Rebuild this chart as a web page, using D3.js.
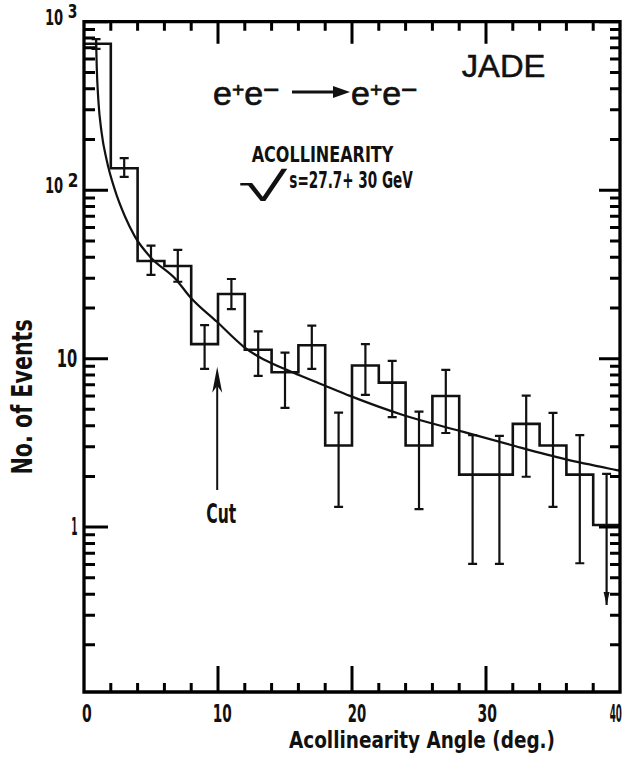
<!DOCTYPE html>
<html>
<head>
<meta charset="utf-8">
<script src="https://cdn.jsdelivr.net/npm/d3@7"></script>
<style>
  html, body { margin: 0; padding: 0; background: #fff; }
  svg { display: block; }
</style>
</head>
<body>
<script>
// ---------------- data ----------------
const binEdges = [0, 2, 4, 6, 8, 10, 12, 14, 16, 18, 20, 22, 24, 26, 28, 30, 32, 34, 36, 38, 40];
const counts   = [740, 135, 38, 35.5, 12.2, 24.2, 11.3, 8.3, 12, 3.05, 9.1, 7.2, 3.05, 6.0, 2.05, 2.05, 4.1, 3.05, 2.05, 1.03];
const errLow   = [689, 120, 31.4, 28.6, 8.7, 19.7, 7.9, 5.1, 8.7, 1.32, 6.09, 4.5, 1.28, 3.62, 0.605, 0.605, 1.99, 1.32, 0.61, 0.345];
const errHigh  = [789, 155, 46.8, 44.2, 15.8, 29.7, 14.5, 10.85, 15.7, 4.78, 12.2, 9.69, 4.85, 8.57, 3.52, 3.48, 6.03, 4.76, 3.52, 2.07];
const upperLimitBins = [19];
const errX     = [0.9, 3, 5, 7, 9, 11, 13, 15, 17, 19, 21, 23, 25, 27, 29, 31, 33, 35, 37, 39];

const curveDeg = [0.9, 0.95, 1.07, 1.32, 1.69, 2.31, 3.05, 3.8, 4.93, 6.9, 7.9, 9.9, 11.9, 15.6, 17.86, 19.85, 23.8, 27.8, 31.8, 35.9, 39.75, 40];
const curveVal = [786, 541, 343, 218, 151, 100, 70, 53, 40.3, 29.3, 23.3, 16.6, 11.8, 8.26, 6.98, 6.01, 4.63, 3.77, 3.08, 2.53, 2.18, 2.16];

const xMajorTicks = [0, 10, 20, 30, 40];
const xTickText   = ["0", "10", "20", "30", "40"];
const xInnerMajor = [10, 20, 30];
const xMinorTicks = [2, 4, 6, 8, 12, 14, 16, 18, 22, 24, 26, 28, 32, 34, 36, 38];
const yMajorTicks = [1, 10, 100, 1000];
const yTickBase   = ["1", "10", "10", "10"];
const yTickExp    = ["", "", "2", "3"];
const yMinorTicks = [0.2,0.3,0.4,0.5,0.6,0.7,0.8,0.9, 2,3,4,5,6,7,8,9, 20,30,40,50,60,70,80,90, 200,300,400,500,600,700,800,900];

const cutAngle = 10, cutTop = 8.96, cutBottom = 1.66;

// ---------------- scales ----------------
const W = 633, H = 761;
const x = d3.scaleLinear().domain([0, 40]).range([84, 620]);
const y = d3.scaleLog().domain([0.105, 1000]).range([692, 21.7]);
const X0 = x(0), X1 = x(40), Y0 = y(0.105), Y1 = y(1000);

const svg = d3.select("body").append("svg").attr("width", W).attr("height", H);
const ink = "#111111";
const COND = '"DejaVu Sans Condensed", "DejaVu Sans", sans-serif';
const HELV = '"Liberation Sans", Arial, sans-serif';
const cctx = document.createElement("canvas").getContext("2d");

// place text so that its ink box fills [left,left+w] x [top,top+h]; if h is null, top is the baseline
function inkText(str, family, weight, size, left, top, w, h, rot) {
  cctx.font = `${weight} ${size}px ${family}`;
  const m = cctx.measureText(str);
  const L = m.actualBoundingBoxLeft, R = m.actualBoundingBoxRight;
  const A = m.actualBoundingBoxAscent, D = m.actualBoundingBoxDescent;
  const sx = w / (L + R);
  const sy = h ? h / (A + D) : 1;
  const t = svg.append("text").attr("font-family", family).attr("font-weight", weight)
    .attr("font-size", size).attr("fill", ink).text(str);
  if (rot) {
    const cx = left + A * sy, cy = top + w - L * sx;
    t.attr("transform", `translate(${cx},${cy}) rotate(-90) scale(${sx},${sy})`);
  } else {
    const ty = h ? top + A * sy : top;
    t.attr("transform", `translate(${left + L * sx},${ty}) scale(${sx},${sy})`);
  }
  return t;
}

// ---------------- histogram ----------------
let hd = `M${x(binEdges[0])},${y(counts[0])}`;
counts.forEach((c, i) => {
  if (i > 0) hd += `V${y(c)}`;
  hd += `H${x(binEdges[i + 1])}`;
});
svg.append("path").attr("d", hd).attr("fill", "none").attr("stroke", ink)
  .attr("stroke-width", 2.6).attr("stroke-linejoin", "miter");

// ---------------- fit curve ----------------
const lineGen = d3.line().x(p => x(p[0])).y(p => y(p[1])).curve(d3.curveMonotoneX);
svg.append("path").attr("d", lineGen(curveDeg.map((v, i) => [v, curveVal[i]])))
  .attr("fill", "none").attr("stroke", ink).attr("stroke-width", 2.2);

// ---------------- error bars ----------------
let ed = "";
counts.forEach((c, i) => {
  const cx = x(errX[i]), yh = y(errHigh[i]), yl = y(errLow[i]);
  ed += `M${cx},${yh}V${yl}M${cx - 4.5},${yh}h9`;
  if (!upperLimitBins.includes(i)) ed += `M${cx - 4.5},${yl}h9`;
});
svg.append("path").attr("d", ed).attr("fill", "none").attr("stroke", ink).attr("stroke-width", 2.2);
upperLimitBins.forEach(i => {
  const cx = x(errX[i]), yb = y(errLow[i]);
  svg.append("path").attr("d", `M${cx},${yb} L${cx - 3},${yb - 13} L${cx + 3},${yb - 13} Z`).attr("fill", ink);
});

// ---------------- cut arrow ----------------
const cx0 = x(cutAngle) - 0.8, ct = y(cutTop);
svg.append("line").attr("x1", cx0).attr("x2", cx0).attr("y1", ct + 10).attr("y2", y(cutBottom)).attr("stroke", ink).attr("stroke-width", 2);
svg.append("path").attr("d", `M${cx0},${ct} L${cx0 - 5},${ct + 26} L${cx0},${ct + 19} L${cx0 + 5},${ct + 26} Z`).attr("fill", ink);
inkText("Cut", COND, "bold", 25, 207, 503.5, 29.5, 19);

// ---------------- tick labels ----------------
const xLabelLeft  = [82.7, 214, 348.3, 478, 610];
const xLabelWidth = [9, 17.7, 17.7, 18.7, 11.7];
xMajorTicks.forEach((t, i) => {
  inkText(xTickText[i], COND, "bold", 26, xLabelLeft[i], 703, xLabelWidth[i], 19);
});
const yLabelLeft = [72, 58, 46, 46], yLabelW = [5, 19, 17, 17];
yMajorTicks.forEach((t, i) => {
  const yy = y(t);
  const top = i < 2 ? yy - 10.5 : yy - 14;
  inkText(yTickBase[i], COND, "bold", 26, yLabelLeft[i], top, yLabelW[i], i < 2 ? 18.5 : 17);
  if (yTickExp[i]) inkText(yTickExp[i], COND, "bold", 20, 68.5, yy - 17.5, 8.5, 14);
});

// ---------------- axis titles ----------------
inkText("No. of Events", COND, "bold", 30, 10, 320, 153, 21.7, true);
inkText("Acollinearity Angle (deg.)", COND, "bold", 23, 289, 748, 265, null);

// ---------------- annotations ----------------
inkText("JADE", HELV, "normal", 31, 461.7, 55, 83, 21.7).attr("stroke", ink).attr("stroke-width", 0.5);

function reaction(x0) {
  const t = svg.append("text").attr("font-family", HELV).attr("fill", ink).attr("x", x0).attr("y", 105).attr("font-size", 34)
    .attr("stroke", ink).attr("stroke-width", 0.7);
  t.append("tspan").text("e");
  t.append("tspan").attr("y", 97).attr("font-size", 21).text("+");
  t.append("tspan").attr("y", 105).text("e");
  t.append("tspan").attr("y", 99).attr("font-size", 28).text("−");
}
reaction(213);
reaction(351);
svg.append("line").attr("x1", 292).attr("x2", 338).attr("y1", 92).attr("y2", 92).attr("stroke", ink).attr("stroke-width", 3);
svg.append("path").attr("d", "M333,86 L350,92 L333,98 Z").attr("fill", ink);

inkText("ACOLLINEARITY", COND, "bold", 22, 251.7, 146, 142.3, 15.7);
inkText("√", '"DejaVu Sans", sans-serif', "200", 34, 238, 168.3, 50.3, 33.4);
inkText("s=27.7+ 30  GeV", COND, "bold", 22, 290, 171.7, 128, 16.3);

// ---------------- frame ----------------
svg.append("path")
  .attr("d", `M${X0},${Y1}H${X1}V${Y0}H${X0}Z`)
  .attr("fill", "none").attr("stroke", "#000").attr("stroke-width", 3.3);

// ---------------- ticks (drawn on top, via the scales) ----------------
let td = "";
yMinorTicks.forEach(v => { td += `M${X0},${y(v)}h11M${X1},${y(v)}h-10`; });
yMajorTicks.forEach(v => { td += `M${X0},${y(v)}h24M${X1},${y(v)}h-21`; });
xMinorTicks.forEach(v => { td += `M${x(v)},${Y0}v-9M${x(v)},${Y1}v9`; });
xInnerMajor.forEach(v => { td += `M${x(v)},${Y0}v-26M${x(v)},${Y1}v22`; });
svg.append("path").attr("d", td).attr("fill", "none").attr("stroke", "#000").attr("stroke-width", 3);
</script>
</body>
</html>
